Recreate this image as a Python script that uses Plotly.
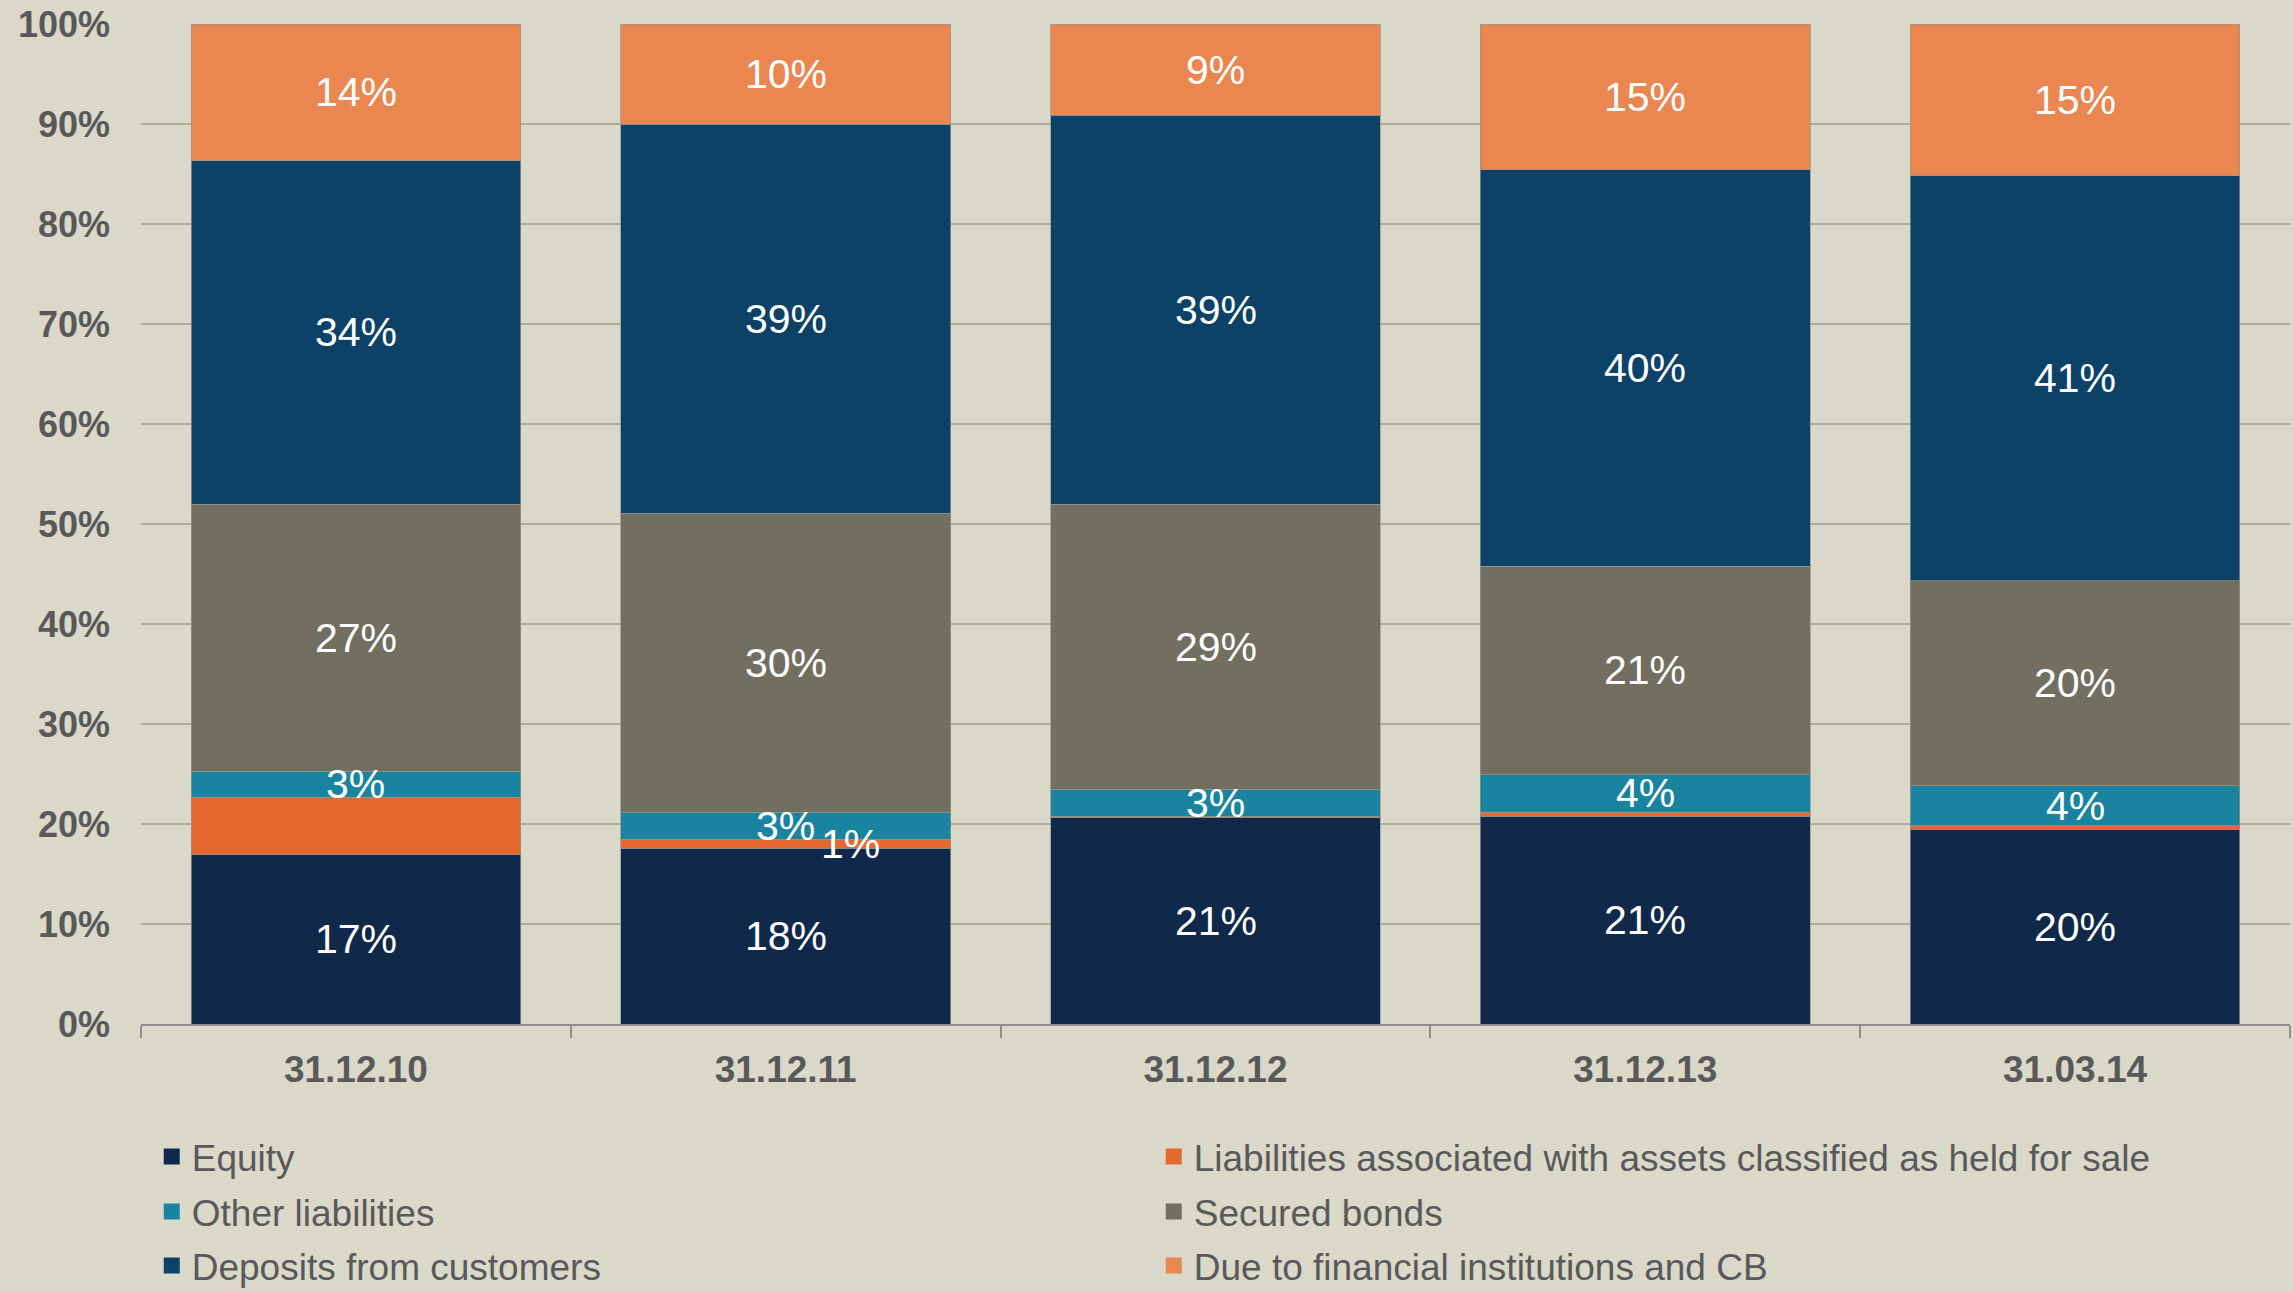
import plotly.graph_objects as go

categories = ["31.12.10", "31.12.11", "31.12.12", "31.12.13", "31.03.14"]

equity = [17.0, 17.6, 20.7, 20.8, 19.5]
held_for_sale = [5.7, 0.9, 0.1, 0.4, 0.35]
other_liab = [2.6, 2.7, 2.7, 3.75, 4.0]
secured_bonds = [26.7, 29.9, 28.5, 20.85, 20.5]
deposits = [34.35, 38.9, 38.9, 39.65, 40.5]
due_fin = [13.65, 10.0, 9.1, 14.55, 15.15]

equity_lbl = ["17%", "18%", "21%", "21%", "20%"]
held_lbl = ["", "1%", "", "", ""]
other_lbl = ["3%", "3%", "3%", "4%", "4%"]
secured_lbl = ["27%", "30%", "29%", "21%", "20%"]
deposits_lbl = ["34%", "39%", "39%", "40%", "41%"]
due_lbl = ["14%", "10%", "9%", "15%", "15%"]

y_ticks = [0, 10, 20, 30, 40, 50, 60, 70, 80, 90, 100]
y_tick_text = ["0%", "10%", "20%", "30%", "40%", "50%", "60%", "70%", "80%", "90%", "100%"]

series = [
    ("Equity", equity, equity_lbl, "#10294B", 0),
    ("Liabilities associated with assets classified as held for sale", held_for_sale, held_lbl, "#E5682E", 65),
    ("Other liabilities", other_liab, other_lbl, "#1A84A0", 0),
    ("Secured bonds", secured_bonds, secured_lbl, "#726F61", 0),
    ("Deposits from customers", deposits, deposits_lbl, "#0C4268", 0),
    ("Due to financial institutions and CB", due_fin, due_lbl, "#EA8650", 0),
]

BG = "#DAD8C9"
TXT = "#595959"
FONT = "Liberation Sans, Arial, sans-serif"

fig = go.Figure()
annotations = []
base = [0.0] * len(categories)
legend_map = ["legend", "legend", "legend2", "legend2", "legend3", "legend3"]

for i, (name, vals, lbls, color, xshift) in enumerate(series):
    fig.add_trace(go.Bar(
        x=categories, y=vals, name=name,
        marker=dict(color=color, line=dict(color="rgba(150,150,140,0.7)", width=1)),
        showlegend=False, hoverinfo="x+y+name",
    ))
    for j, c in enumerate(categories):
        if lbls[j]:
            annotations.append(dict(
                x=c, y=base[j] + vals[j] / 2, xref="x", yref="y",
                text=lbls[j], showarrow=False, xshift=xshift,
                font=dict(family=FONT, size=41, color="white"),
            ))
        base[j] += vals[j]
    fig.add_trace(go.Scatter(
        x=[None], y=[None], mode="markers", name=name,
        marker=dict(symbol="square", size=19, color=color),
        legend=legend_map[i], showlegend=True,
    ))

leg_common = dict(
    orientation="h", xanchor="left", yanchor="middle", traceorder="normal",
    font=dict(family=FONT, size=37, color=TXT),
    bgcolor="rgba(0,0,0,0)", entrywidth=957, entrywidthmode="pixels",
    itemclick=False, itemdoubleclick=False,
)

fig.update_layout(
    width=2293, height=1292,
    paper_bgcolor=BG, plot_bgcolor=BG,
    margin=dict(l=141, r=3, t=24, b=268, autoexpand=False),
    barmode="stack", bargap=0.233,
    font=dict(family=FONT, color=TXT),
    annotations=annotations,
    legend=dict(x=0.005, y=-0.133, **leg_common),
    legend2=dict(x=0.005, y=-0.188, **leg_common),
    legend3=dict(x=0.005, y=-0.242, **leg_common),
    xaxis=dict(
        type="category", tickson="boundaries", ticks="outside", ticklen=12,
        tickwidth=2, tickcolor="#8f8f8f", showline=True, linecolor="#8f8f8f",
        linewidth=2, showgrid=False,
        tickfont=dict(family=FONT, size=37, color=TXT, weight="bold"),
        ticklabelstandoff=12,
    ),
    yaxis=dict(
        range=[0, 100], tickvals=y_ticks, ticktext=y_tick_text,
        showgrid=True, gridcolor="#ADAB9A", gridwidth=2,
        zeroline=False, showline=False, ticks="",
        tickfont=dict(family=FONT, size=36, color=TXT, weight="bold"),
        ticklabelstandoff=30,
    ),
)

fig.write_html(
    "out.html",
    config={"displayModeBar": False},
    post_script="document.body.style.margin='0';document.body.style.overflow='hidden';",
)
